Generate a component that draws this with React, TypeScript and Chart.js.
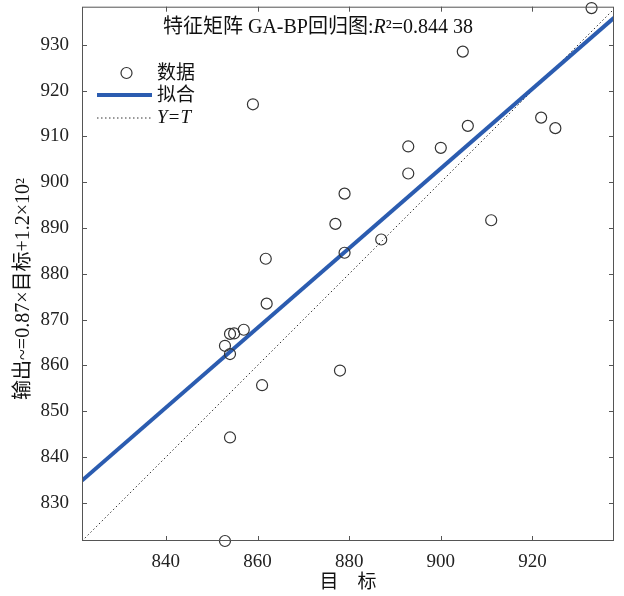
import React, { useEffect, useRef } from "react";
import { Chart, registerables } from "chart.js";

Chart.register(...registerables);

// ---- data ----
const targets = [
  862.0, 854.0, 854.9, 857.0, 852.9, 854.0, 861.0, 878.0, 854.0, 852.9,
  905.9, 892.9, 900.0, 892.9, 879.0, 877.0, 879.0, 887.0, 911.0, 925.0,
  921.9, 861.8, 859.0, 904.8, 932.9,
];
const outputs = [
  873.5, 866.9, 867.0, 867.8, 864.3, 862.5, 855.7, 858.9, 844.3, 821.7,
  912.3, 907.8, 907.5, 901.9, 897.5, 890.9, 884.6, 887.5, 891.7, 911.8,
  914.1, 883.3, 917.0, 928.5, 938.0,
];
const fitSlope = 0.87;
const fitIntercept = 120;
const xTicks = [840, 860, 880, 900, 920];
const yTicks = [830, 840, 850, 860, 870, 880, 890, 900, 910, 920, 930];
const X_MIN = 821.7;
const X_MAX = 937.8;
const Y_MIN = 821.7;
const Y_MAX = 938.3;

const titleParts = [
  { text: "特征矩阵 GA-BP回归图:", italic: false },
  { text: "R", italic: true },
  { text: "²=0.844 38", italic: false },
];
const legendLabels = ["数据", "拟合", "Y=T"];
const xTitle = "目\u3000标";
const yTitle = "输出~=0.87×目标+1.2×10²";

const FAM = '"Liberation Serif", "Noto Sans CJK SC", serif';
const FIT_COLOR = "#2b5cb0";
const AXIS_COLOR = "#555";

const decorPlugin = {
  id: "decor",
  afterDraw(chart: any) {
    const ctx = chart.ctx as CanvasRenderingContext2D;
    const { left, right, top, bottom } = chart.chartArea;
    const xs = chart.scales.x;
    const ys = chart.scales.y;
    ctx.save();
    // box
    ctx.strokeStyle = AXIS_COLOR;
    ctx.lineWidth = 1;
    ctx.setLineDash([]);
    ctx.strokeRect(left + 0.5, top + 0.5, right - left - 1, bottom - top - 1);
    // inward ticks
    const tl = 5;
    ctx.beginPath();
    xTicks.forEach((v) => {
      const px = Math.round(xs.getPixelForValue(v)) + 0.5;
      ctx.moveTo(px, bottom);
      ctx.lineTo(px, bottom - tl);
      ctx.moveTo(px, top);
      ctx.lineTo(px, top + tl);
    });
    yTicks.forEach((v) => {
      const py = Math.round(ys.getPixelForValue(v)) + 0.5;
      ctx.moveTo(left, py);
      ctx.lineTo(left + tl, py);
      ctx.moveTo(right, py);
      ctx.lineTo(right - tl, py);
    });
    ctx.stroke();

    // title inside plot
    ctx.fillStyle = "#111";
    ctx.textBaseline = "middle";
    ctx.textAlign = "left";
    const tSize = 20;
    let total = 0;
    titleParts.forEach((p) => {
      ctx.font = `${p.italic ? "italic " : ""}${tSize}px ${FAM}`;
      total += ctx.measureText(p.text).width;
    });
    let tx = 318 - total / 2;
    titleParts.forEach((p) => {
      ctx.font = `${p.italic ? "italic " : ""}${tSize}px ${FAM}`;
      ctx.fillText(p.text, tx, 28);
      tx += ctx.measureText(p.text).width;
    });

    // legend
    const lx0 = 97;
    const lx1 = 152;
    const textX = 157;
    const rows = [73, 95, 118];
    ctx.beginPath();
    ctx.strokeStyle = "#333";
    ctx.lineWidth = 1.2;
    ctx.arc((lx0 + lx1) / 2 + 2, rows[0], 5.5, 0, Math.PI * 2);
    ctx.stroke();
    ctx.beginPath();
    ctx.strokeStyle = FIT_COLOR;
    ctx.lineWidth = 4;
    ctx.moveTo(lx0, rows[1]);
    ctx.lineTo(lx1, rows[1]);
    ctx.stroke();
    ctx.beginPath();
    ctx.strokeStyle = "#333";
    ctx.lineWidth = 1;
    ctx.setLineDash([1.5, 2.5]);
    ctx.moveTo(lx0, rows[2]);
    ctx.lineTo(lx1, rows[2]);
    ctx.stroke();
    ctx.setLineDash([]);
    ctx.fillStyle = "#111";
    ctx.font = `19px ${FAM}`;
    ctx.fillText(legendLabels[0], textX, rows[0] + 1);
    ctx.fillText(legendLabels[1], textX, rows[1] + 1);
    ctx.font = `italic 19px ${FAM}`;
    ctx.fillText(legendLabels[2], textX, rows[2]);

    // axis titles
    ctx.font = `19px ${FAM}`;
    ctx.textAlign = "center";
    ctx.fillText(xTitle, (left + right) / 2, 583);
    ctx.save();
    ctx.translate(24, 289);
    ctx.rotate(-Math.PI / 2);
    ctx.font = `20px ${FAM}`;
    ctx.fillText(yTitle, 0, 0);
    ctx.restore();
    ctx.restore();
  },
};

export default function App() {
  const ref = useRef<HTMLCanvasElement>(null);
  useEffect(() => {
    if (!ref.current) return;
    const points = targets.map((t, i) => ({ x: t, y: outputs[i] }));
    const fitLine = [X_MIN, X_MAX].map((x) => ({ x, y: fitSlope * x + fitIntercept }));
    const idLine = [Math.min(X_MIN, Y_MIN), Math.max(X_MAX, Y_MAX)].map((v) => ({ x: v, y: v }));
    const tickFont = { family: FAM, size: 19 };
    const chart = new Chart(ref.current, {
      type: "scatter",
      data: {
        datasets: [
          {
            label: "数据",
            data: points,
            pointRadius: 5.5,
            pointStyle: "circle",
            borderColor: "#333",
            backgroundColor: "rgba(0,0,0,0)",
            borderWidth: 1.2,
            clip: false,
          } as any,
          {
            label: "拟合",
            data: fitLine,
            showLine: true,
            borderColor: FIT_COLOR,
            borderWidth: 4,
            pointRadius: 0,
          },
          {
            label: "Y=T",
            data: idLine,
            showLine: true,
            borderColor: "#333",
            borderWidth: 1,
            borderDash: [1.5, 2.5],
            pointRadius: 0,
          },
        ],
      },
      options: {
        animation: false,
        responsive: false,
        layout: { padding: { left: 0, top: 5, right: 10, bottom: 0 } },
        plugins: { legend: { display: false }, tooltip: { enabled: false } },
        scales: {
          x: {
            type: "linear",
            min: X_MIN,
            max: X_MAX,
            grid: { display: false, drawTicks: false },
            border: { display: false },
            ticks: { padding: 10, font: tickFont, color: "#222", autoSkip: false, maxRotation: 0 },
            afterBuildTicks: (s: any) => {
              s.ticks = xTicks.map((v) => ({ value: v }));
            },
            afterFit: (s: any) => {
              s.height = 55;
              s.paddingLeft = 0;
              s.paddingRight = 0;
            },
          },
          y: {
            type: "linear",
            min: Y_MIN,
            max: Y_MAX,
            grid: { display: false, drawTicks: false },
            border: { display: false },
            ticks: { padding: 13, font: tickFont, color: "#222", autoSkip: false },
            afterBuildTicks: (s: any) => {
              s.ticks = yTicks.map((v) => ({ value: v }));
            },
            afterFit: (s: any) => {
              s.width = 82;
              s.paddingTop = 0;
              s.paddingBottom = 0;
            },
          },
        },
      },
      plugins: [decorPlugin],
    });
    return () => chart.destroy();
  }, []);
  return (
    <div style={{ position: "absolute", left: 0, top: 0, width: 624, height: 596, background: "#fff" }}>
      <canvas ref={ref} width={624} height={596} />
    </div>
  );
}
